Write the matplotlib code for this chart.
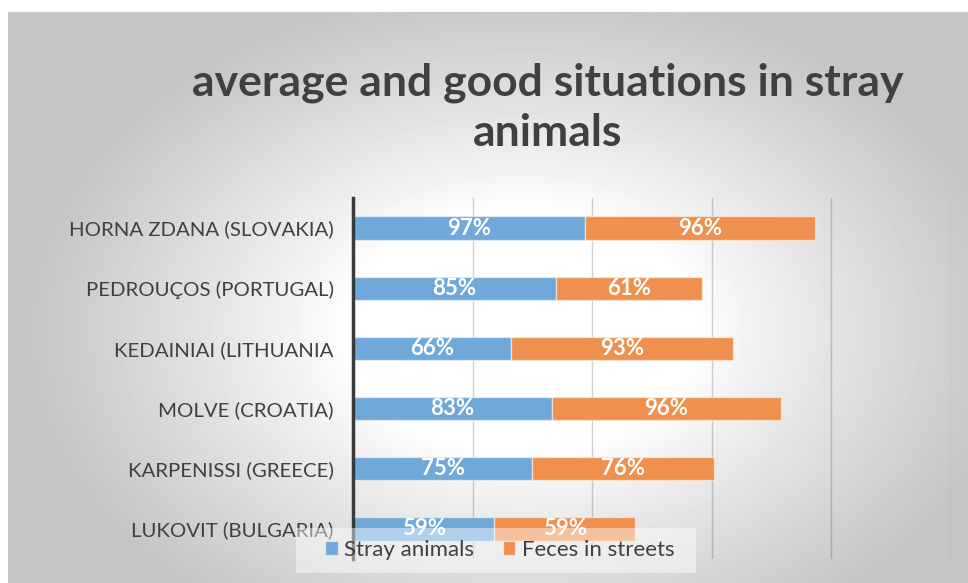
import numpy as np
import matplotlib.pyplot as plt
from matplotlib.patches import Rectangle

# data, top to bottom as in the chart
sites = ["HORNA ZDANA (SLOVAKIA)", "PEDROUÇOS (PORTUGAL)", "KEDAINIAI (LITHUANIA",
         "MOLVE (CROATIA)", "KARPENISSI (GREECE)", "LUKOVIT (BULGARIA)"]
stray_animals = [97, 85, 66, 83, 75, 59]
feces_in_streets = [96, 61, 93, 96, 76, 59]

title = "average and good situations in stray\nanimals"
blue = "#70A8DA"
orange = "#F0904E"
text_col = "#404040"

W, H = 968, 583
fig = plt.figure(figsize=(W / 100, H / 100), dpi=100, facecolor="white")

# gray panel with radial gradient
bg = fig.add_axes([8 / W, 0, 960 / W, 571 / H], zorder=-1)
xx, yy = np.meshgrid(np.arange(960) + 8, np.arange(571) + 12)
d = np.sqrt(((xx - 520) / 430.0) ** 2 + ((yy - 330) / 300.0) ** 2)
shade = 1 - 0.23 * np.clip((d - 0.4) / 0.75, 0, 1) ** 0.9
bg.imshow(shade, cmap="gray", vmin=0, vmax=1, aspect="auto", interpolation="bilinear")
bg.set_xticks([])
bg.set_yticks([])
for s in ["left", "right", "bottom"]:
    bg.spines[s].set_visible(False)
bg.spines["top"].set_color("#c8c8c8")

ax = fig.add_axes([353 / W, 24 / H, 598 / W, 361 / H])
ax.set_facecolor("none")

y = np.arange(len(sites))
b1 = ax.barh(y, stray_animals, height=0.39, color=blue, edgecolor="#ffffff80", linewidth=1,
             label="Stray animals", zorder=3)
b2 = ax.barh(y, feces_in_streets, left=stray_animals, height=0.39, color=orange,
             edgecolor="#ffffff80", linewidth=1, label="Feces in streets", zorder=3)
for bars in (b1, b2):
    ax.bar_label(bars, labels=[f"{v}%" for v in bars.datavalues], label_type="center",
                 color="white", fontsize=16, fontweight="bold", family="Lato", zorder=4)

ax.set_xlim(0, 250)
ax.set_ylim(len(sites) - 0.5, -0.5)
ax.set_xticks([0, 50, 100, 150, 200, 250])
ax.set_xticklabels([])
ax.xaxis.grid(True, color="black", alpha=0.18, linewidth=1)
ax.set_axisbelow(True)
ax.set_yticks(y)
ax.set_yticklabels(sites, fontsize=14.7, color=text_col, family="Lato")
ax.tick_params(length=0, pad=14)
for s in ["top", "right", "bottom"]:
    ax.spines[s].set_visible(False)
ax.spines["left"].set_color("#3a3a3a")
ax.spines["left"].set_linewidth(2.5)
ax.spines["left"].set_zorder(5)

fig.text(548 / W, 1 - 108 / H, title, ha="center", va="center", fontsize=32,
         fontweight="bold", color=text_col, family="Lato", linespacing=1.3)

# translucent legend box over the last bar
fig.patches.append(Rectangle((296 / W, 1 - 573 / H), 400 / W, 45 / H, transform=fig.transFigure,
                             facecolor="white", alpha=0.45, edgecolor="none", zorder=1))
fig.legend(handles=[b1, b2], loc="center", bbox_to_anchor=(500 / W, 1 - 550 / H), ncol=2,
           frameon=False, prop={"family": "Lato", "size": 16}, labelcolor=text_col,
           handlelength=0.55, handleheight=0.55, handletextpad=0.3, columnspacing=1.3)

fig.savefig("out.png", dpi=100, facecolor="white")
